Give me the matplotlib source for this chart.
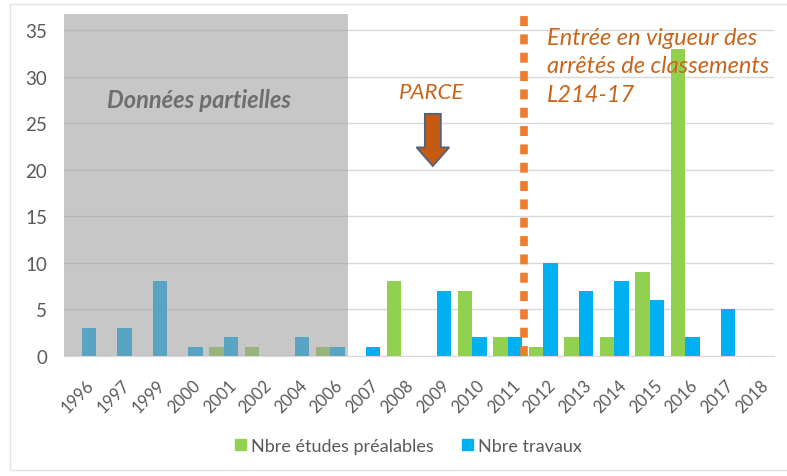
import numpy as np
import matplotlib
matplotlib.use('Agg')
import matplotlib.pyplot as plt
from matplotlib.patches import Rectangle, FancyArrow, Patch

plt.rcParams['font.family'] = ['Lato', 'DejaVu Sans']

# data
years = ['1996', '1997', '1999', '2000', '2001', '2002', '2004', '2006', '2007', '2008',
         '2009', '2010', '2011', '2012', '2013', '2014', '2015', '2016', '2017', '2018']
etudes = [0, 0, 0, 0, 1, 1, 0, 1, 0, 8, 0, 7, 2, 1, 2, 2, 9, 33, 0, 0]
travaux = [3, 3, 8, 1, 2, 0, 2, 1, 1, 0, 7, 2, 2, 10, 7, 8, 6, 2, 5, 0]

green = '#92D050'
blue = '#00B0F0'
orange = '#ED7D31'
txt_orange = '#C8651B'
grey_txt = '#595959'

fig = plt.figure(figsize=(7.87, 4.77), dpi=100)
ax = fig.add_axes([0.0813, 0.2516, 0.9022, 0.7224])

x = np.arange(len(years))
w = 0.41
ax.bar(x - w / 2, etudes, w, color=green, zorder=2)
ax.bar(x + w / 2, travaux, w, color=blue, zorder=2)

ax.set_xlim(-0.5, len(years) - 0.5)
ax.set_ylim(0, 37)
ax.set_yticks(range(0, 36, 5))
ax.yaxis.grid(True, color='#D9D9D9', lw=1, zorder=0)
ax.set_axisbelow(True)
for s in ['top', 'right', 'left']:
    ax.spines[s].set_visible(False)
ax.spines['bottom'].set_color('#D9D9D9')
ax.tick_params(axis='both', length=0, colors=grey_txt)
ax.tick_params(axis='y', pad=12, labelsize=13.5)
ax.tick_params(axis='x', pad=15)
ax.set_xticks(x + 0.12)
ax.set_xticklabels(years, rotation=45, ha='right', rotation_mode='anchor', fontsize=12)

# shaded "partial data" zone
ax.add_patch(Rectangle((-0.5, 0), 8, 36.7, facecolor='#9E9E9E', alpha=0.57,
                       edgecolor='none', zorder=3))
ax.text(3.3, 27.5, 'Données partielles', color='#6E6E6E', fontsize=17,
        fontweight='bold', style='italic', ha='center', va='center', zorder=4)

# PARCE arrow
ax.text(9.85, 28.3, 'PARCE', color=txt_orange, fontsize=16, style='italic',
        ha='center', va='center', zorder=4)
ax.add_patch(FancyArrow(9.89, 26.0, 0, -5.6, width=0.45, head_width=0.92,
                        head_length=2.0, length_includes_head=True,
                        facecolor='#C55A11', edgecolor='#4F6282', lw=1.3, zorder=4))

# dotted vertical line
ax.plot([12.46, 12.46], [0, 37.2], color=orange, lw=5.5, linestyle=(0, (1.3, 1.1)),
        zorder=5, clip_on=False, solid_capstyle='butt', dash_capstyle='butt')
ax.text(13.1, 35.3, 'Entrée en vigueur des\narrêtés de classements\nL214-17',
        color=txt_orange, fontsize=17, style='italic', ha='left', va='top',
        linespacing=1.42, zorder=4)

handles = [Patch(color=green), Patch(color=blue)]
fig.legend(handles, ['Nbre études préalables', 'Nbre travaux'], loc='center',
           bbox_to_anchor=(0.519, 0.063), ncol=2, frameon=False, fontsize=13,
           handlelength=0.6, handleheight=0.6, handletextpad=0.25, columnspacing=1.6,
           labelcolor=grey_txt)

# outer frame
fig.add_artist(Rectangle((0.013, 0.012), 0.99, 0.978, transform=fig.transFigure,
                         fill=False, edgecolor='#E3E3E3', lw=1))

fig.savefig('out.png', dpi=100)
